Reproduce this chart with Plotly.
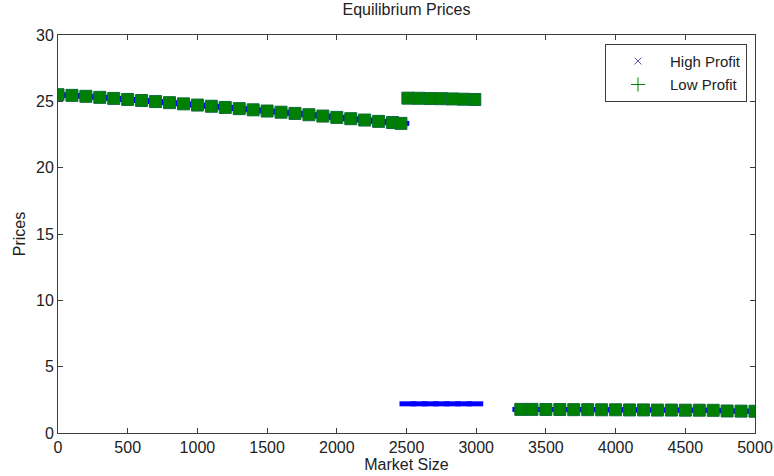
import plotly.graph_objects as go

# Market sizes (three segments)
x_seg1 = [0, 100, 200, 300, 400, 500, 600, 700, 800, 900, 1000, 1100, 1200,
          1300, 1400, 1500, 1600, 1700, 1800, 1900, 2000, 2100, 2200, 2300, 2400, 2460]
x_seg2 = [2510, 2590, 2670, 2750, 2830, 2910, 2990]
x_seg3 = [3320, 3400, 3500, 3600, 3700, 3800, 3900, 4000, 4100, 4200, 4300,
          4400, 4500, 4600, 4700, 4800, 4900, 5000]

# Prices
seg1_price = [25.5, 25.45, 25.38, 25.3, 25.22, 25.14, 25.06, 24.98, 24.9, 24.81,
              24.72, 24.63, 24.54, 24.45, 24.36, 24.27, 24.18, 24.09, 23.99, 23.89,
              23.79, 23.69, 23.59, 23.49, 23.4, 23.34]
high_seg2 = [2.2, 2.2, 2.2, 2.2, 2.2, 2.2, 2.2]
low_seg2 = [25.24, 25.23, 25.21, 25.2, 25.18, 25.16, 25.14]
seg3_price = [1.78, 1.78, 1.77, 1.77, 1.76, 1.76, 1.75, 1.75, 1.74, 1.74, 1.73,
              1.73, 1.72, 1.72, 1.71, 1.66, 1.65, 1.64]

x_ticks = [0, 500, 1000, 1500, 2000, 2500, 3000, 3500, 4000, 4500, 5000]
y_ticks = [0, 5, 10, 15, 20, 25, 30]

x_all = x_seg1 + x_seg2 + x_seg3
high_all = seg1_price + high_seg2 + seg3_price
low_all = seg1_price + low_seg2 + seg3_price

BLUE = "#0000ff"
GREEN = "#008000"
FONT = "Liberation Sans, Arial, sans-serif"
AXC = "#3c3c3c"
TXT = "#222222"

fig = go.Figure()
fig.add_trace(go.Scatter(
    x=x_all, y=high_all, mode="markers", showlegend=False,
    marker=dict(symbol="line-ew-open", size=12, color=BLUE,
                line=dict(color=BLUE, width=5)),
))
fig.add_trace(go.Scatter(
    x=x_all, y=low_all, mode="markers", showlegend=False,
    marker=dict(symbol="square", size=12, color=GREEN,
                line=dict(color="#0b6b3a", width=1)),
))
# legend entries
fig.add_trace(go.Scatter(
    x=[None], y=[None], mode="markers", name="High Profit", legendgroup="hi",
    marker=dict(symbol="x-thin-open", size=7, color="#5a5ab4",
                line=dict(color="#5a5ab4", width=1)),
))
fig.add_trace(go.Scatter(
    x=[None], y=[None], mode="markers", name="Low Profit", legendgroup="lo",
    marker=dict(symbol="cross-thin-open", size=10, color=GREEN,
                line=dict(color=GREEN, width=1)),
))

axis_common = dict(
    showgrid=False, zeroline=False, showline=True, linecolor=AXC, linewidth=1,
    mirror="ticks", ticks="inside", ticklen=5, tickcolor=AXC, automargin=False,
    tickfont=dict(family=FONT, size=16, color=TXT),
)

fig.update_layout(
    width=774, height=476,
    margin=dict(l=58, r=19, t=35, b=43),
    paper_bgcolor="white", plot_bgcolor="white",
    title=dict(text="Equilibrium Prices", x=0.5, xanchor="center",
               xref="paper", y=0.993, yanchor="top",
               font=dict(family=FONT, size=16, color=TXT)),
    xaxis=dict(range=[0, 5000], tickvals=x_ticks,
               title=dict(text="Market Size", standoff=3,
                          font=dict(family=FONT, size=16, color=TXT)),
               **axis_common),
    yaxis=dict(range=[0, 30], tickvals=y_ticks,
               title=dict(text="Prices", standoff=6,
                          font=dict(family=FONT, size=16, color=TXT)),
               **axis_common),
    legend=dict(x=0.9885, y=0.978, xanchor="right", yanchor="top",
                bgcolor="white", bordercolor=AXC, borderwidth=1,
                font=dict(family=FONT, size=15, color=TXT),
                itemwidth=54, tracegroupgap=1),
)

fig.write_html("out.html")
